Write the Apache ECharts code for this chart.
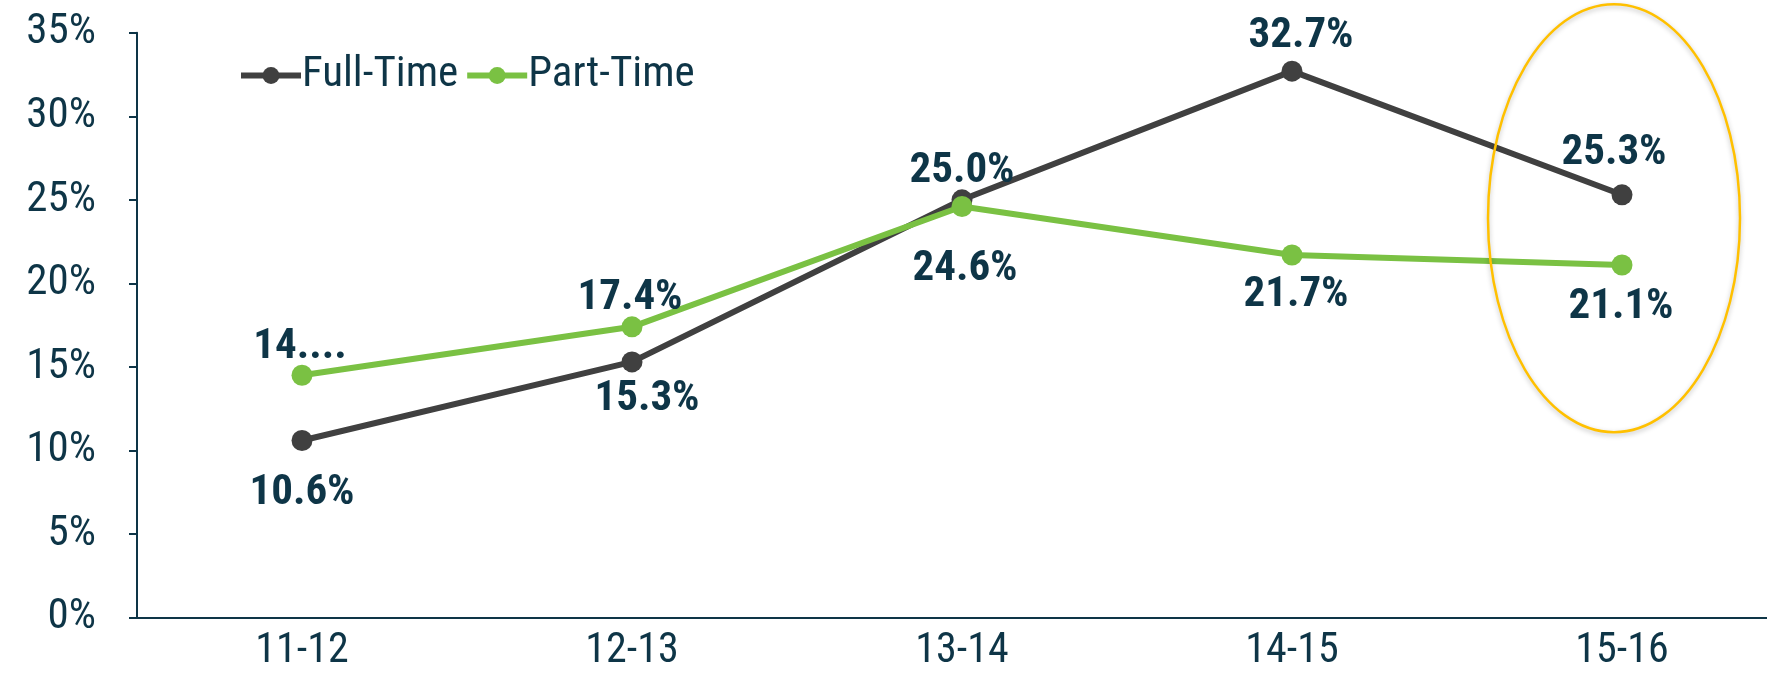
<!DOCTYPE html>
<html><head><meta charset="utf-8">
<script src="https://cdn.jsdelivr.net/npm/echarts@6/dist/echarts.min.js"></script>
<style>html,body{margin:0;padding:0;background:#fff;overflow:hidden;width:1767px;height:685px}#c{width:1787px;height:685px}</style>
</head><body><div id="c"></div>
<script>
const categories = ['11-12','12-13','13-14','14-15','15-16'];
const fullTime = [10.6, 15.3, 25.0, 32.7, 25.3];
const partTime = [14.5, 17.4, 24.6, 21.7, 21.1];
const fullTimeLabels = ['10.6%','15.3%','25.0%','32.7%','25.3%'];
const partTimeLabels = ['14....','17.4%','24.6%','21.7%','21.1%'];
const yTicks = {min: 0, max: 35, interval: 5};

const navy = '#0E3547';
const font = '"Liberation Sans Narrow", "Roboto Condensed", "DejaVu Sans Condensed", sans-serif';
const ftOffsets = [[0,53],[15,37],[0,-29],[9,-35],[-8,-42]];
const ptOffsets = [[-2,-28],[-2,-29],[3,63],[4,40],[-1,42]];

function items(vals, labels, offs){
  return vals.map((v,i)=>({value:v, label:{offset:offs[i], formatter:labels[i]}}));
}

const chart = echarts.init(document.getElementById('c'));
const labelStyle = {show:true, position:'inside', color:navy, fontFamily:font, fontWeight:'bold', fontSize:43};
chart.setOption({
  animation:false,
  legend:{left:233, top:49, itemWidth:60, itemHeight:21, itemGap:6,
    lineStyle:{width:6},
    textStyle:{color:navy, fontFamily:font, fontSize:43, padding:[0,0,0,-4]},
    data:['Full-Time','Part-Time']},
  grid:{left:137, top:32.7, bottom:67.4, right:0, containLabel:false},
  xAxis:{type:'category', data:categories, boundaryGap:true,
    axisLine:{lineStyle:{color:navy, width:2}},
    axisTick:{length:12, lineStyle:{color:navy, width:2}},
    axisLabel:{color:navy, fontFamily:font, fontSize:42, margin:13}},
  yAxis:{type:'value', min:yTicks.min, max:yTicks.max, interval:yTicks.interval,
    splitLine:{show:false},
    axisLine:{show:true, lineStyle:{color:navy, width:2}},
    axisTick:{show:true, length:8, lineStyle:{color:navy, width:2}},
    axisLabel:{color:navy, fontFamily:font, fontSize:43, margin:41, formatter:'{value}%'}},
  series:[
    {name:'Full-Time', type:'line', data:items(fullTime, fullTimeLabels, ftOffsets),
     symbol:'circle', symbolSize:21, itemStyle:{color:'#404040'}, lineStyle:{color:'#404040', width:6},
     label:labelStyle, z:3},
    {name:'Part-Time', type:'line', data:items(partTime, partTimeLabels, ptOffsets),
     symbol:'circle', symbolSize:21, itemStyle:{color:'#7AC143'}, lineStyle:{color:'#7AC143', width:6},
     label:labelStyle, z:4}
  ]
});
const ctr = chart.convertToPixel({xAxisIndex:0, yAxisIndex:0}, ['15-16', 23.9]);
chart.setOption({graphic:[{type:'ellipse', shape:{cx:ctr[0]-8, cy:ctr[1], rx:126, ry:214},
  style:{fill:'none', stroke:'#FFC000', lineWidth:2.5, shadowBlur:5, shadowColor:'rgba(0,0,0,0.25)', shadowOffsetY:2}, z:10}]});
</script></body></html>
